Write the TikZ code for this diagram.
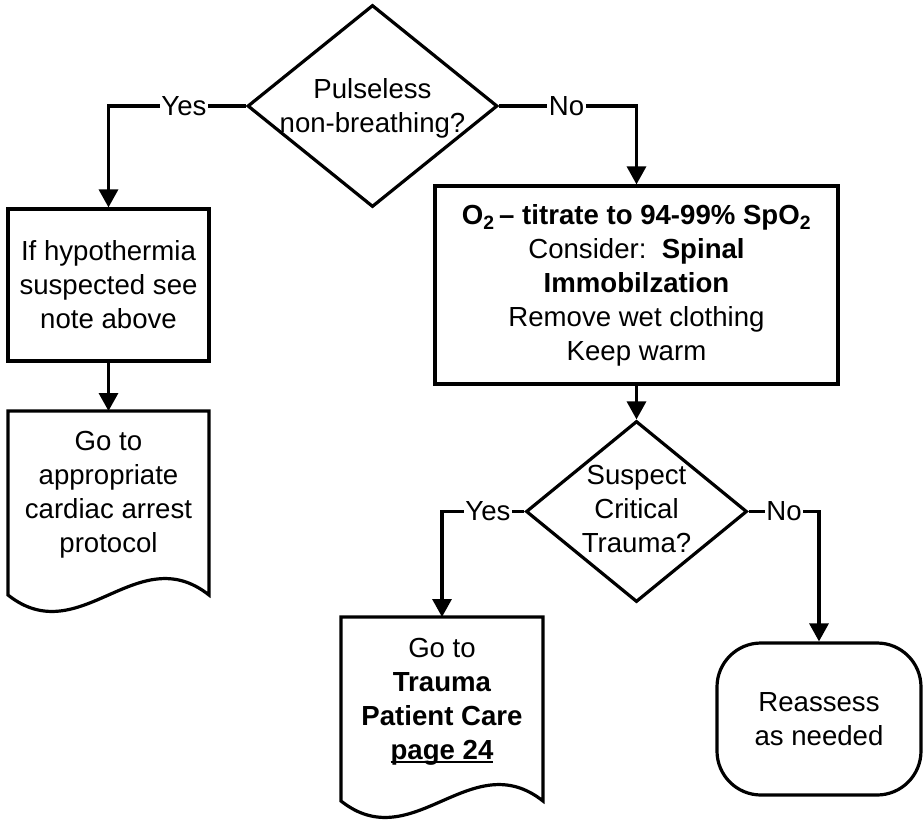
\documentclass[tikz,border=0pt]{standalone}
\usepackage{fontspec}
\setmainfont{Liberation Sans}
\usetikzlibrary{shapes.geometric,arrows.meta}
\newcommand{\ulx}[1]{\setbox0=\hbox{#1}\rlap{\rule[-3.5pt]{\wd0}{2pt}}\box0}
\begin{document}
\begin{tikzpicture}[x=1pt,y=-1pt,
  every node/.style={font=\fontsize{27.6}{34}\selectfont},
  ln/.style={line width=3.2pt},
  arr/.style={ln,-{Triangle[length=18pt,width=19pt]}},
  boxn/.style={draw,line width=3.2pt,rectangle,align=center,inner sep=0pt},
  dia/.style={draw,line width=3.2pt,diamond,inner sep=0pt},
  docn/.style={rectangle,inner sep=0pt,outer sep=0pt,minimum height=184pt},
  lbl/.style={fill=white,inner xsep=1.5pt,inner ysep=1pt},
  txt/.style={align=center,inner sep=0pt}]
\useasboundingbox (0,0) rectangle (924,820);

% top decision
\node[dia,minimum width=250pt,minimum height=202pt] (d1) at (372.5,106) {};
\node[txt] (d1t) at (372.5,108) {Pulseless\\non-breathing?};

% left branch
\node[boxn,minimum width=201pt,minimum height=152pt] (b1) at (108.5,285)
  {If hypothermia\\suspected see\\note above};
\node[docn,minimum width=201pt] (doc1) at (108.5,503) {};
\draw[ln] (doc1.south west) -- (doc1.north west) -- (doc1.north east) -- (doc1.south east)
  .. controls +(-72,-57) and +(72,57) .. (doc1.south west) -- cycle;
\node[txt] (doc1t) at (108.5,495) {Go to\\appropriate\\cardiac arrest\\protocol};

% right branch
\node[boxn,minimum width=403pt,minimum height=198pt] (b2) at (636.5,285)
  {\textbf{O\textsubscript{2}\,– titrate to 94-99\% SpO\textsubscript{2}}\\
   Consider:~~\textbf{Spinal}\\
   \textbf{Immobilzation}\\
   Remove wet clothing\\
   Keep warm};

\node[dia,minimum width=221pt,minimum height=181pt] (d2) at (636.5,511.5) {};
\node[txt] (d2t) at (636.5,509) {Suspect\\Critical\\Trauma?};

\node[docn,minimum width=202pt] (doc2) at (442,709) {};
\draw[ln] (doc2.south west) -- (doc2.north west) -- (doc2.north east) -- (doc2.south east)
  .. controls +(-72,-57) and +(72,57) .. (doc2.south west) -- cycle;
\node[txt] (doc2t) at (442,701.5) {Go to\\\textbf{Trauma}\\\textbf{Patient Care}\\\ulx{\textbf{page 24}}};

\node[boxn,rounded corners=44pt,minimum width=204pt,minimum height=152pt] (rb) at (819,719)
  {Reassess\\as needed};

% connectors
\node[lbl] (y1) at (184,106) {Yes};
\draw[ln] (d1.west) -- (y1);
\draw[arr] (y1) -| (b1.north);

\node[lbl] (n1) at (566.5,106) {No};
\draw[ln] (d1.east) -- (n1);
\draw[arr] (n1) -| (b2.north);

\draw[arr] (b1.south) -- (doc1.north);
\draw[arr] (b2.south) -- (d2.north);

\node[lbl] (y2) at (488,511.5) {Yes};
\draw[ln] (d2.west) -- (y2);
\draw[arr] (y2) -| (doc2.north);

\node[lbl] (n2) at (784,511.5) {No};
\draw[ln] (d2.east) -- (n2);
\draw[arr] (n2) -| (rb.north);
\end{tikzpicture}
\end{document}
